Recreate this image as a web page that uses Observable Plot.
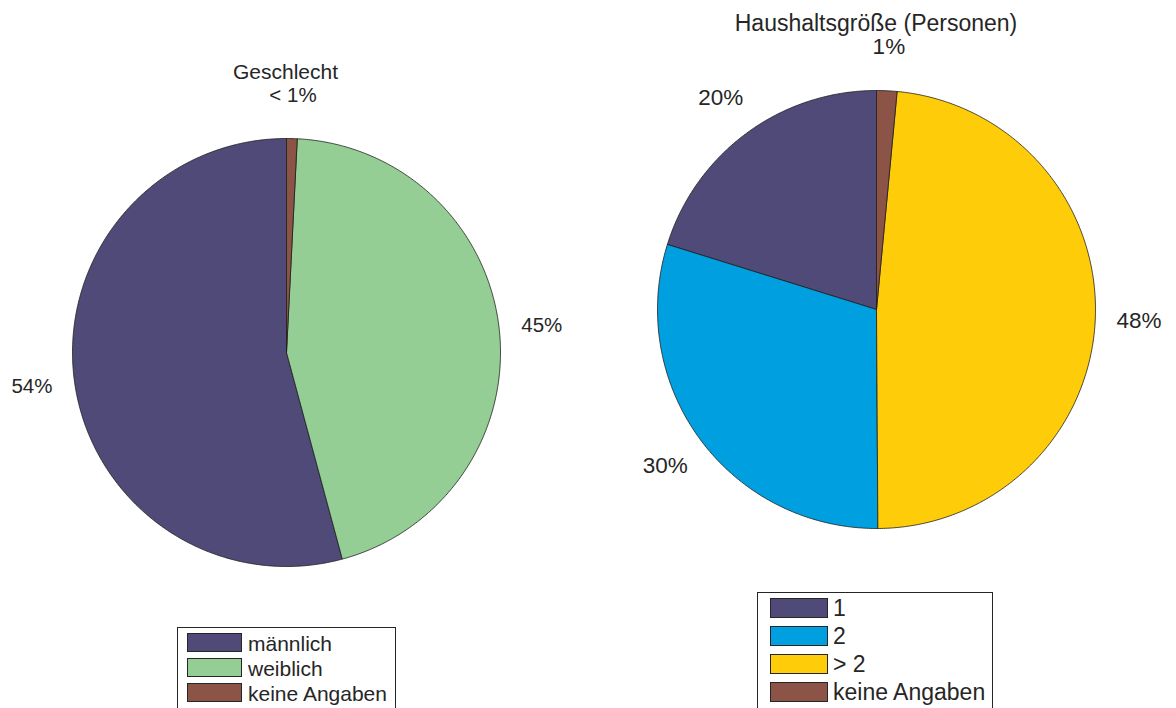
<!DOCTYPE html>
<html><head><meta charset="utf-8">
<script src="https://cdn.jsdelivr.net/npm/d3@7"></script>
<script src="https://cdn.jsdelivr.net/npm/@observablehq/plot@0.6"></script>
<style>
html,body{margin:0;padding:0;background:#fff;}
#root{position:relative;width:1176px;height:708px;overflow:hidden;font-family:"Liberation Sans",Arial,Helvetica,sans-serif;color:#262626;background:#fff;}
.title{position:absolute;transform:translate(-50%,-50%);white-space:nowrap;line-height:1;}
.legend{position:absolute;border:1px solid #262626;background:#fff;box-sizing:border-box;}
.sw{position:absolute;border:1px solid #262626;box-sizing:border-box;}
.lt{position:absolute;white-space:nowrap;transform:translateY(-50%);line-height:1;}
</style></head><body><div id="root"></div>
<script>
// ---- data ----
const genderTitle = "Geschlecht";
const genderCategories = ["männlich", "weiblich", "keine Angaben"];
const genderValues = [54.2, 45.0, 0.8];
const genderLabels = ["54%", "45%", "< 1%"];
const genderColors = ["#4f4a78", "#94ce94", "#8b5446"];

const householdTitle = "Haushaltsgröße (Personen)";
const householdCategories = ["1", "2", "> 2", "keine Angaben"];
const householdValues = [20.2, 29.9, 48.4, 1.5];
const householdLabels = ["20%", "30%", "48%", "1%"];
const householdColors = ["#4f4a78", "#009fe0", "#fecc08", "#8b5446"];

const root = document.getElementById("root");

function pieChart({categories, values, labels, colors, left, width, height, mL, mR, mT, mB, fontSize}) {
  const total = d3.sum(values);
  let acc = 0;
  const slices = values.map((v, i) => {
    const f0 = acc / total; acc += v; const f1 = acc / total;
    return {key: categories[i], f0, f1, label: labels[i], color: colors[i]};
  });
  const pts = s => {
    const n = Math.max(3, Math.ceil((s.f1 - s.f0) * 720));
    const arr = [{x: 0, y: 0}];
    for (let k = 0; k <= n; k++) {
      const t = 2 * Math.PI * (s.f0 + (s.f1 - s.f0) * k / n);
      arr.push({x: -Math.sin(t), y: Math.cos(t)});
    }
    arr.push({x: 0, y: 0});
    return arr;
  };
  const labelData = slices.map(s => {
    const t = 2 * Math.PI * (s.f0 + s.f1) / 2;
    return {x: -1.2 * Math.sin(t), y: 1.2 * Math.cos(t), text: s.label};
  });
  const svg = Plot.plot({
    width, height,
    marginLeft: mL, marginRight: mR, marginTop: mT, marginBottom: mB,
    x: {domain: [-1, 1], axis: null},
    y: {domain: [-1, 1], axis: null},
    style: {overflow: "visible", background: "transparent", fontFamily: '"Liberation Sans", Arial, sans-serif', color: "#262626"},
    marks: [
      ...slices.map(s => Plot.line(pts(s), {x: "x", y: "y", fill: s.color, stroke: "#1e1e1e", strokeWidth: 0.8, strokeLinejoin: "round", curve: "linear"})),
      Plot.text(labelData, {x: "x", y: "y", text: "text", fontSize, fill: "#262626", textAnchor: "middle", lineAnchor: "middle"})
    ]
  });
  svg.style.position = "absolute";
  svg.style.left = left + "px";
  svg.style.top = "0px";
  root.appendChild(svg);
}

function addTitle(text, cx, cy, fs) {
  const d = document.createElement("div");
  d.className = "title";
  d.textContent = text;
  d.style.left = cx + "px"; d.style.top = cy + "px"; d.style.fontSize = fs + "px";
  root.appendChild(d);
}

function addLegend({categories, colors, left, top, width, swLeft, swW, swH, firstTop, pitch, textLeft, fs}) {
  const box = document.createElement("div");
  box.className = "legend";
  box.style.left = left + "px"; box.style.top = top + "px";
  box.style.width = width + "px"; box.style.height = (708 - top + 20) + "px";
  root.appendChild(box);
  categories.forEach((c, i) => {
    const t = firstTop + i * pitch;
    const sw = document.createElement("div");
    sw.className = "sw";
    sw.style.left = swLeft + "px"; sw.style.top = t + "px";
    sw.style.width = swW + "px"; sw.style.height = swH + "px";
    sw.style.background = colors[i];
    root.appendChild(sw);
    const lt = document.createElement("div");
    lt.className = "lt";
    lt.textContent = c;
    lt.style.left = textLeft + "px"; lt.style.top = (t + swH / 2) + "px"; lt.style.fontSize = fs + "px";
    root.appendChild(lt);
  });
}

pieChart({categories: genderCategories, values: genderValues, labels: genderLabels, colors: genderColors,
  left: 0, width: 588, height: 708, mL: 72, mR: 88, mT: 138, mB: 142, fontSize: 20.5});
pieChart({categories: householdCategories, values: householdValues, labels: householdLabels, colors: householdColors,
  left: 588, width: 588, height: 708, mL: 69, mR: 81, mT: 90, mB: 180, fontSize: 22.5});

addTitle(genderTitle, 285.5, 71, 21);
addTitle(householdTitle, 876, 22.5, 23);

addLegend({categories: genderCategories, colors: genderColors, left: 177, top: 627, width: 219,
  swLeft: 187, swW: 55, swH: 19, firstTop: 633, pitch: 25, textLeft: 248, fs: 21});
addLegend({categories: householdCategories, colors: householdColors, left: 757, top: 592, width: 236,
  swLeft: 770, swW: 58, swH: 20, firstTop: 598, pitch: 28, textLeft: 833, fs: 23});
</script></body></html>
